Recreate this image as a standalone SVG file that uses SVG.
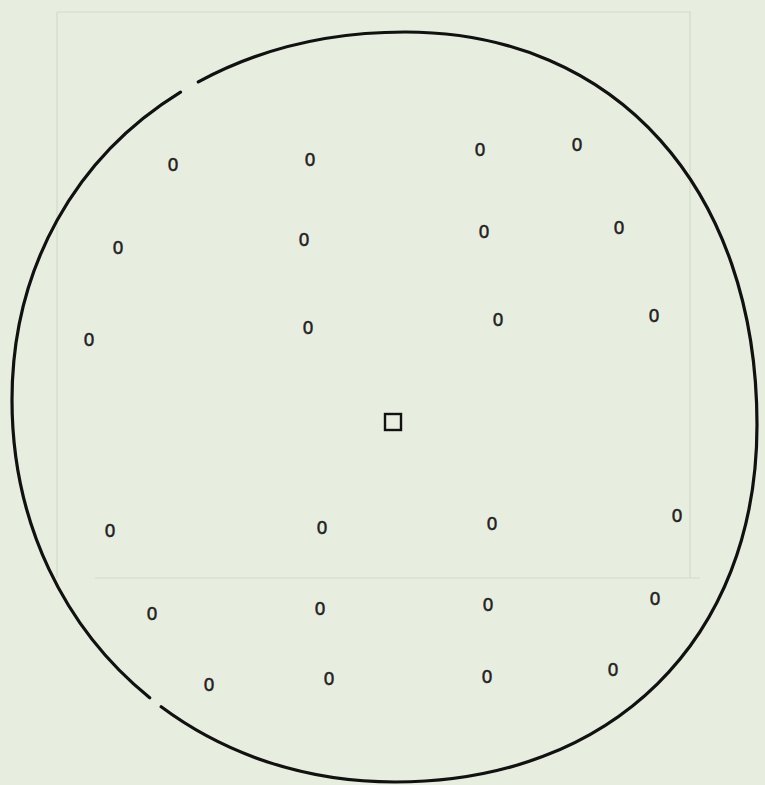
<svg xmlns="http://www.w3.org/2000/svg" width="765" height="785" viewBox="0 0 765 785">
<style>
.m{font-family:"Liberation Sans",Arial,sans-serif;font-size:19px;text-anchor:middle;fill:#222;stroke:#222;stroke-width:0.4}
.bd{fill:none;stroke:#111;stroke-width:3.2;stroke-linecap:round}
.faint{fill:none;stroke:#d3dbc9;stroke-width:1.2}
</style>
<rect width="765" height="785" fill="#e7eddf"/>
<g id="background-grid">
<path class="faint" d="M57 12 H690 V578 M57 12 V578 M95 578 H700"/>
</g>
<g id="outline">
<path class="bd" d="M198.3 81.9 C257.3 49.9 327.5 32 405 32 C616.2 32 757 189.2 757 425 C757 639.2 612.2 782 395 782 C305.5 782 225 754.4 161.2 706.8"/>
<path class="bd" d="M149.7 697.8 C64.6 628.9 12 523 12 400 C12 266.6 76.5 156.2 180.5 92.2"/>
</g>
<g id="center-square">
<rect x="385" y="414" width="16" height="16" fill="none" stroke="#111" stroke-width="2.4"/>
</g>
<g id="marks">
<text class="m" transform="translate(173,165) scale(1,1.3)" y="4.9">o</text>
<text class="m" transform="translate(310,160) scale(1,1.3)" y="4.9">o</text>
<text class="m" transform="translate(480,150) scale(1,1.3)" y="4.9">o</text>
<text class="m" transform="translate(577,145) scale(1,1.3)" y="4.9">o</text>
<text class="m" transform="translate(118,248) scale(1,1.3)" y="4.9">o</text>
<text class="m" transform="translate(304,240) scale(1,1.3)" y="4.9">o</text>
<text class="m" transform="translate(484,232) scale(1,1.3)" y="4.9">o</text>
<text class="m" transform="translate(619,228) scale(1,1.3)" y="4.9">o</text>
<text class="m" transform="translate(89,340) scale(1,1.3)" y="4.9">o</text>
<text class="m" transform="translate(308,328) scale(1,1.3)" y="4.9">o</text>
<text class="m" transform="translate(498,320) scale(1,1.3)" y="4.9">o</text>
<text class="m" transform="translate(654,316) scale(1,1.3)" y="4.9">o</text>
<text class="m" transform="translate(110,531) scale(1,1.3)" y="4.9">o</text>
<text class="m" transform="translate(322,528) scale(1,1.3)" y="4.9">o</text>
<text class="m" transform="translate(492,524) scale(1,1.3)" y="4.9">o</text>
<text class="m" transform="translate(677,516) scale(1,1.3)" y="4.9">o</text>
<text class="m" transform="translate(152,614) scale(1,1.3)" y="4.9">o</text>
<text class="m" transform="translate(320,609) scale(1,1.3)" y="4.9">o</text>
<text class="m" transform="translate(488,605) scale(1,1.3)" y="4.9">o</text>
<text class="m" transform="translate(655,599) scale(1,1.3)" y="4.9">o</text>
<text class="m" transform="translate(209,685) scale(1,1.3)" y="4.9">o</text>
<text class="m" transform="translate(329,679) scale(1,1.3)" y="4.9">o</text>
<text class="m" transform="translate(487,677) scale(1,1.3)" y="4.9">o</text>
<text class="m" transform="translate(613,670) scale(1,1.3)" y="4.9">o</text>
</g>
</svg>
